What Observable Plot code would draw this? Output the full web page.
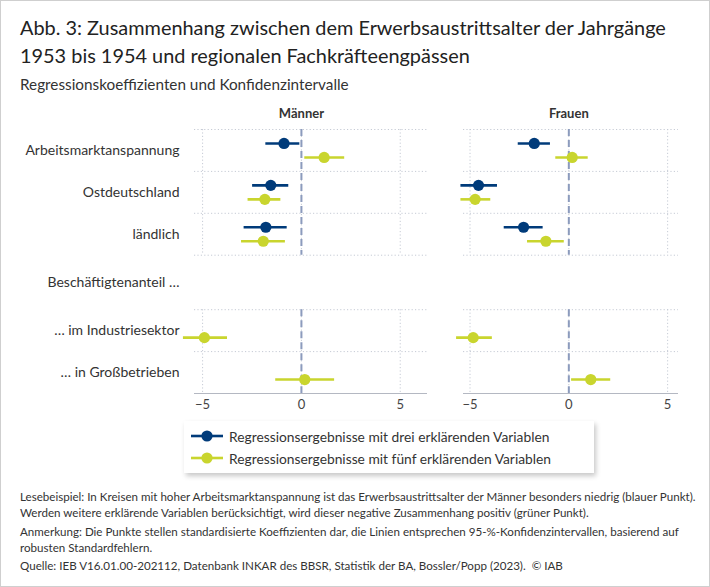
<!DOCTYPE html>
<html><head><meta charset="utf-8">
<script src="https://cdn.jsdelivr.net/npm/d3@7"></script>
<script src="https://cdn.jsdelivr.net/npm/@observablehq/plot@0.6"></script>
<style>
body{margin:0;background:#fff;font-family:Lato,"Open Sans",sans-serif;color:#333;}
#wrap{position:relative;width:710px;height:587px;box-sizing:border-box;border:1px solid #cfcfcf;overflow:hidden;background:#fff;}
#title{position:absolute;left:19px;top:12px;font-size:19.9px;line-height:28px;color:#222;}
#subtitle{position:absolute;left:19px;top:74px;font-size:15.3px;color:#333;}
#p1{position:absolute;left:0;top:95px;}
#p2{position:absolute;left:440px;top:95px;}
#legend{position:absolute;left:183px;top:420px;width:410px;height:52px;background:#fff;box-shadow:2px 3px 5px rgba(0,0,0,0.22);}
.lrow{position:absolute;left:7px;height:20px;display:flex;align-items:center;font-size:13.8px;color:#333;}
.lrow svg{margin-right:6px;}
#notes{position:absolute;left:19px;top:488px;width:690px;font-size:11.6px;line-height:16px;color:#333;}
#notes p{margin:0 0 3px 0;}
#notes p.last{margin-top:-1px;}
</style></head>
<body><div id="wrap">
<div id="title">Abb. 3: Zusammenhang zwischen dem Erwerbsaustrittsalter der Jahrgänge<br>1953 bis 1954 und regionalen Fachkräfteengpässen</div>
<div id="subtitle">Regressionskoeffizienten und Konfidenzintervalle</div>
<div id="p1"></div><div id="p2"></div>
<div id="legend"></div>
<div id="notes">
<p>Lesebeispiel: In Kreisen mit hoher Arbeitsmarktanspannung ist das Erwerbsaustrittsalter der Männer besonders niedrig (blauer Punkt). Werden weitere erklärende Variablen berücksichtigt, wird dieser negative Zusammenhang positiv (grüner Punkt).</p>
<p>Anmerkung: Die Punkte stellen standardisierte Koeffizienten dar, die Linien entsprechen 95-%-Konfidenzintervallen, basierend auf robusten Standardfehlern.</p>
<p class="last">Quelle: IEB V16.01.00-202112, Datenbank INKAR des BBSR, Statistik der BA, Bossler/Popp (2023).&nbsp; © IAB</p>
</div>
</div>
<script>
const categories = ["Arbeitsmarktanspannung","Ostdeutschland","ländlich","Beschäftigtenanteil …","… im Industriesektor","… in Großbetrieben"];
const headerRow = "Beschäftigtenanteil …";
const models = ["Regressionsergebnisse mit drei erklärenden Variablen","Regressionsergebnisse mit fünf erklärenden Variablen"];
const modelColors = ["#003b7a","#c9d52e"];
const panels = ["Männer","Frauen"];
const xTicks = [-5, 0, 5];

// Männer
const menDreiCoef = [-0.88, -1.55, -1.80, null, null, null];
const menDreiLo   = [-1.80, -2.47, -2.90, null, null, null];
const menDreiHi   = [-0.08, -0.64, -0.72, null, null, null];
const menFuenfCoef = [1.15, -1.85, -1.93, null, -4.91, 0.17];
const menFuenfLo   = [0.17, -2.70, -3.03, null, -5.97, -1.30];
const menFuenfHi   = [2.19, -1.04, -0.81, null, -3.74, 1.68];
// Frauen
const womDreiCoef = [-1.75, -4.57, -2.29, null, null, null];
const womDreiLo   = [-2.56, -5.46, -3.27, null, null, null];
const womDreiHi   = [-0.93, -3.61, -1.30, null, null, null];
const womFuenfCoef = [0.17, -4.74, -1.16, null, -4.84, 1.11];
const womFuenfLo   = [-0.66, -5.46, -2.09, null, -5.68, 0.14];
const womFuenfHi   = [0.98, -3.95, -0.23, null, -3.87, 2.12];

// layout: the header row gets a slightly taller band
const hdr = categories.indexOf(headerRow);
const n = categories.length;
const extra = 0.3;
const rowPos = i => i + (i > hdr ? extra : i === hdr ? extra / 2 : 0);
const bandTop = i => i - 0.5 + (i > hdr ? extra : 0);
const bandBottom = i => i + 0.5 + (i >= hdr ? extra : 0);
const tickPos = categories.map((_, i) => rowPos(i));

function rows(coef, lo, hi, model) {
  return categories.map((c, i) => ({cat: c, i, y: rowPos(i), coef: coef[i], lo: lo[i], hi: hi[i], model}))
    .filter(d => d.coef != null);
}
const menData = [...rows(menDreiCoef, menDreiLo, menDreiHi, models[0]), ...rows(menFuenfCoef, menFuenfLo, menFuenfHi, models[1])];
const womData = [...rows(womDreiCoef, womDreiLo, womDreiHi, models[0]), ...rows(womFuenfCoef, womFuenfLo, womFuenfHi, models[1])];

const segments = [{y1: bandTop(0), y2: bandBottom(hdr - 1)}, {y1: bandTop(hdr + 1), y2: bandBottom(n - 1)}];
const gridTops = categories.map((_, i) => bandTop(i));
const vGrid = segments.flatMap(s => xTicks.map(x => ({x, ...s})));
const offset = [-7, 7];

function panel(data, title, domain, opts) {
  const marks = [
    Plot.ruleY(gridTops, {stroke: "#c6cbd5", strokeDasharray: "1.2,2.2", strokeWidth: 1}),
    Plot.ruleX(vGrid, {x: "x", y1: "y1", y2: "y2", stroke: "#c6cbd5", strokeDasharray: "1.2,2.2", strokeWidth: 1}),
    Plot.ruleX(segments, {x: 0, y1: "y1", y2: "y2", stroke: "#8c9bbd", strokeWidth: 2, strokeDasharray: "7,4"}),
    Plot.ruleY([bandBottom(n - 1)], {stroke: "#b4b8c2", strokeWidth: 1}),
  ];
  models.forEach((m, k) => {
    const d = data.filter(r => r.model === m);
    marks.push(Plot.ruleY(d, {y: "y", x1: "lo", x2: "hi", dy: offset[k], stroke: modelColors[k], strokeWidth: 2.6}));
    marks.push(Plot.dot(d, {x: "coef", y: "y", dy: offset[k], r: 5.6, fill: modelColors[k], stroke: "none"}));
  });
  marks.push(Plot.text([title], {x: 0, frameAnchor: "top", lineAnchor: "middle", dy: -16, text: d => d, fontWeight: "bold", fontSize: 13, fill: "#333"}));
  marks.push(Plot.axisX({ticks: xTicks, tickSize: 0, tickPadding: 6, fontSize: 13, label: null, tickFormat: d => d < 0 ? "−" + Math.abs(d) : String(d), color: "#444"}));
  if (opts.yAxis) {
    marks.push(Plot.axisY({ticks: tickPos, tickFormat: v => categories[tickPos.indexOf(v)], tickSize: 0, tickPadding: 15, fontSize: 14, label: null, color: "#333"}));
  } else {
    marks.push(Plot.axisY({ticks: [], label: null}));
  }
  return Plot.plot({
    width: opts.width, height: 325,
    marginLeft: opts.marginLeft, marginRight: opts.marginRight, marginTop: 33, marginBottom: 28,
    style: {fontFamily: "Lato, 'Open Sans', sans-serif", background: "transparent", overflow: "visible"},
    x: {domain},
    y: {domain: [bandTop(0), bandBottom(n - 1)], reverse: true},
    marks
  });
}

document.getElementById("p1").append(panel(menData, panels[0], [-5.41, 6.38], {width: 440, marginLeft: 193, marginRight: 14, yAxis: true}));
document.getElementById("p2").append(panel(womData, panels[1], [-5.33, 5.55], {width: 250, marginLeft: 22, marginRight: 13, yAxis: false}));

// legend
const leg = document.getElementById("legend");
models.forEach((m, k) => {
  const row = document.createElement("div");
  row.className = "lrow";
  row.style.top = (5 + k * 22) + "px";
  row.innerHTML = `<svg width="32" height="14"><line x1="0" x2="32" y1="7" y2="7" stroke="${modelColors[k]}" stroke-width="2.6"/><circle cx="16" cy="7" r="5.6" fill="${modelColors[k]}"/></svg><span>${m}</span>`;
  leg.append(row);
});
</script>
</body></html>
